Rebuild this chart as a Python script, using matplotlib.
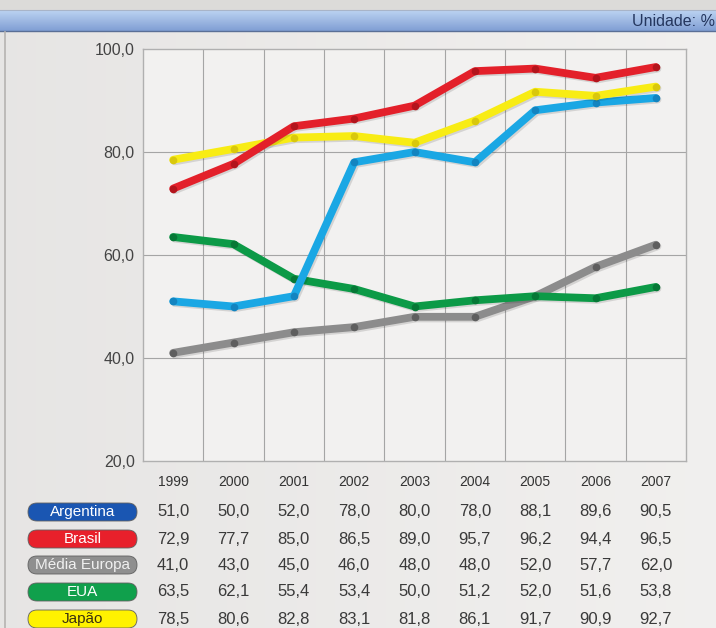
import matplotlib
matplotlib.use("Agg")
import matplotlib.pyplot as plt
import numpy as np
from matplotlib.patches import FancyBboxPatch, Rectangle
from matplotlib.transforms import blended_transform_factory
import matplotlib.patheffects as pe

plt.rcParams['font.family'] = ['Liberation Sans', 'DejaVu Sans']

years = [1999, 2000, 2001, 2002, 2003, 2004, 2005, 2006, 2007]
series_names = ["Argentina", "Brasil", "Média Europa", "EUA", "Japão"]
argentina = [51.0, 50.0, 52.0, 78.0, 80.0, 78.0, 88.1, 89.6, 90.5]
brasil = [72.9, 77.7, 85.0, 86.5, 89.0, 95.7, 96.2, 94.4, 96.5]
europa = [41.0, 43.0, 45.0, 46.0, 48.0, 48.0, 52.0, 57.7, 62.0]
eua = [63.5, 62.1, 55.4, 53.4, 50.0, 51.2, 52.0, 51.6, 53.8]
japao = [78.5, 80.6, 82.8, 83.1, 81.8, 86.1, 91.7, 90.9, 92.7]
yticks = [20, 40, 60, 80, 100]
unit_label = "Unidade: %"

values = [argentina, brasil, europa, eua, japao]
line_colors = ["#1aa7e4", "#e3202a", "#8c8c8c", "#0c9a47", "#f8ec14"]
marker_colors = ["#1384c0", "#b3141c", "#5e5e5e", "#067836", "#d9c80c"]
pill_colors = ["#1a56b2", "#e8202b", "#8f8f8f", "#10a04c", "#fff200"]
pill_text = ["white", "white", "#f0f0f0", "white", "#3a3010"]

W, H = 716, 628
fig = plt.figure(figsize=(W / 100, H / 100), dpi=100)
fig.patch.set_facecolor("#e7e5e3")

ov = fig.add_axes([0, 0, 1, 1], zorder=0)
ov.set_xlim(0, W)
ov.set_ylim(H, 0)
ov.axis("off")

grad = np.linspace(0, 1, 256).reshape(1, -1)
ov.imshow(np.dstack([0.905 + 0.04 * grad, 0.90 + 0.04 * grad, 0.895 + 0.04 * grad]),
          extent=[0, W, H, 31], aspect="auto", zorder=0)
ov.add_patch(Rectangle((0, 0), W, 10, color="#dcdbd9", zorder=1))
vg = np.linspace(0, 1, 64).reshape(-1, 1)
top = np.array([0.74, 0.83, 0.95])
bot = np.array([0.50, 0.62, 0.83])
bar = top[None, None, :] * (1 - vg[..., None]) + bot[None, None, :] * vg[..., None]
bar = np.repeat(bar, 2, axis=1)
ov.imshow(bar, extent=[0, W, 31, 10], aspect="auto", zorder=1)
ov.plot([0, W], [31, 31], color="#5a6f96", lw=1, zorder=2)
ov.plot([0, W], [10, 10], color="#a8b4c8", lw=0.8, zorder=2)
ov.text(W - 1, 21, unit_label, ha="right", va="center", fontsize=11.5,
        color="#24365e", zorder=3)
ov.plot([5, 5], [32, H], color="#b5b3b1", lw=1.2, zorder=2)

ax = fig.add_axes([143 / W, 1 - 461 / H, (686 - 143) / W, (461 - 49) / H], zorder=2)
ax.set_facecolor("#f2f1f0")
ax.set_xlim(1998.5, 2007.5)
ax.set_ylim(20, 100)
ax.set_yticks(yticks)
ax.set_yticklabels([f"{v:.1f}".replace(".", ",") for v in yticks],
                   fontsize=11.5, color="#444444")
ax.set_xticks(years)
ax.set_xticklabels([str(y) for y in years], fontsize=10, color="#333333")
ax.tick_params(length=0, pad=6)
ax.tick_params(axis="x", pad=10)
for y in yticks[1:-1]:
    ax.axhline(y, color="#a5a5a5", lw=0.8, zorder=1)
for x in np.arange(1999.5, 2007.5, 1.0):
    ax.axvline(x, color="#a5a5a5", lw=0.8, zorder=1)
for s in ax.spines.values():
    s.set_color("#b0b0b0")
    s.set_linewidth(1.0)

order = [2, 3, 0, 4, 1]
for i in order:
    ax.plot(years, values[i], color=line_colors[i], lw=5.6, solid_capstyle="round",
            solid_joinstyle="round", zorder=3 + order.index(i),
            path_effects=[pe.SimpleLineShadow(offset=(1.2, -1.2), shadow_color="#000000", alpha=0.12),
                          pe.Normal()])
    ax.plot(years, values[i], "o", color=marker_colors[i], ms=5.5, mew=0,
            zorder=3 + order.index(i))

tr = blended_transform_factory(ax.transData, ov.transData)
row_y = [512, 539, 565, 592, 619]
for i, name in enumerate(series_names):
    yy = row_y[i]
    ov.add_patch(FancyBboxPatch((28, yy - 9), 109, 18,
                                boxstyle="round,pad=0,rounding_size=9",
                                fc=pill_colors[i], ec="#606060", lw=0.6, zorder=3))
    ov.text(82.5, yy, name, ha="center", va="center", fontsize=11,
            color=pill_text[i], zorder=4)
    for yr, v in zip(years, values[i]):
        ov.text(yr, yy, f"{v:.1f}".replace(".", ","), transform=tr, ha="center",
                va="center", fontsize=12, color="#3a3a3a", zorder=4)

fig.savefig("out.png", dpi=100, facecolor=fig.get_facecolor())
